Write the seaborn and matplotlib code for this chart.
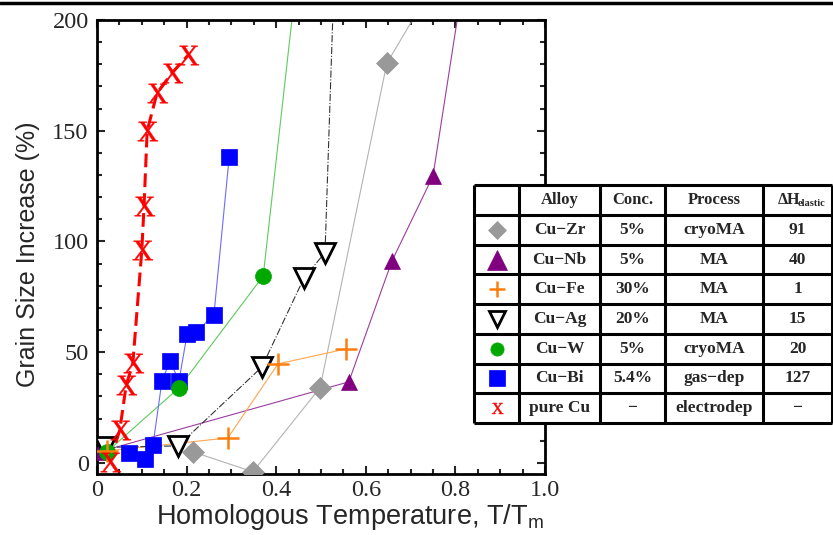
import matplotlib
matplotlib.use("Agg")
import matplotlib.pyplot as plt
import seaborn as sns
import numpy as np
from matplotlib.lines import Line2D
from matplotlib.textpath import TextPath
from matplotlib.font_manager import FontProperties
from matplotlib.path import Path
from matplotlib.ticker import MultipleLocator

# data (T/Tm, grain size increase %)
zr_x = [0.214, 0.348, 0.498, 0.647, 0.760]
zr_y = [5.0, -4.0, 34.0, 180.5, 219.0]
nb_x = [0.005, 0.562, 0.658, 0.750, 0.830]
nb_y = [5.0, 36.6, 91.0, 129.6, 234.0]
fe_x = [0.022, 0.292, 0.404, 0.556]
fe_y = [5.4, 11.3, 44.7, 51.5]
ag_x = [0.018, 0.181, 0.368, 0.462, 0.509, 0.531]
ag_y = [7.0, 7.7, 43.3, 83.5, 95.0, 230.0]
w_x = [0.022, 0.183, 0.371, 0.450]
w_y = [5.0, 33.9, 84.4, 227.0]
bi_x = [0.071, 0.107, 0.125, 0.145, 0.163, 0.183, 0.201, 0.221, 0.261, 0.295]
bi_y = [4.5, 1.8, 8.1, 37.0, 46.0, 37.0, 58.0, 59.0, 67.0, 138.0]
cu_x = [0.029, 0.051, 0.065, 0.080, 0.100, 0.105, 0.112, 0.134, 0.167, 0.203]
cu_y = [0.5, 15.0, 35.0, 45.0, 96.0, 116.0, 150.0, 167.0, 176.0, 184.0]

alloys = ["Cu\u2212Zr", "Cu\u2212Nb", "Cu\u2212Fe", "Cu\u2212Ag", "Cu\u2212W", "Cu\u2212Bi", "pure Cu"]
concs = ["5%", "5%", "30%", "20%", "5%", "5.4%", "\u2212"]
processes = ["cryoMA", "MA", "MA", "MA", "cryoMA", "gas\u2212dep", "electrodep"]
dh_elastic = ["91", "40", "1", "15", "20", "127", "\u2212"]

sns.set_style("ticks")
plt.rcParams["font.family"] = ["Liberation Serif", "DejaVu Serif"]

# serif "X" marker for pure Cu
tp = TextPath((0, 0), "X", prop=FontProperties(family="Liberation Serif"), size=1)
v = tp.vertices
ctr = (v.min(axis=0) + v.max(axis=0)) / 2
x_marker = Path(v - ctr, tp.codes)

# table order; "tms" is the marker size used in the table, "z" the drawing order
series = [
    dict(x=zr_x, y=zr_y, color="#b3b3b3", ls="-", lw=0.8, marker="D", ms=11, tms=9.5,
         mfc="#999999", mec="#999999", mew=0.5, z=3.2),
    dict(x=nb_x, y=nb_y, color="#9b3da0", ls="-", lw=0.8, marker="^", ms=12, tms=14,
         mfc="#800080", mec="#800080", mew=0.5, z=3.0),
    dict(x=fe_x, y=fe_y, color="#ffa64d", ls="-", lw=0.8, marker="+", ms=16, tms=12,
         mfc="#ff7f0e", mec="#ff7f0e", mew=1.8, z=3.5),
    dict(x=ag_x, y=ag_y, color="#333333", ls="-.", lw=0.8, marker="v", ms=15, tms=11,
         mfc="white", mec="black", mew=2.0, z=3.1),
    dict(x=w_x, y=w_y, color="#5ccc5c", ls="-", lw=0.8, marker="o", ms=11.5, tms=9.5,
         mfc="#00a800", mec="#00a800", mew=0.5, z=3.4),
    dict(x=bi_x, y=bi_y, color="#6b6bff", ls="-", lw=0.8, marker="s", ms=11, tms=11.5,
         mfc="#0000ff", mec="#0000ff", mew=0.5, z=3.3),
    dict(x=cu_x, y=cu_y, color="#ff0000", ls="--", lw=2.2, marker=x_marker, ms=15, tms=8.5,
         mfc="#ff0000", mec="#ff0000", mew=0.3, z=3.6),
]

fig = plt.figure(figsize=(8.33, 5.35), dpi=100)
ax = fig.add_axes([97 / 833, 61 / 535, 448 / 833, 454 / 535])

for s in series:
    sns.lineplot(x=s["x"], y=s["y"], ax=ax, sort=False, estimator=None,
                 color=s["color"], linestyle=s["ls"], linewidth=s["lw"], zorder=2)
    ax.plot(s["x"], s["y"], linestyle="none", marker=s["marker"], markersize=s["ms"],
            markerfacecolor=s["mfc"], markeredgecolor=s["mec"], markeredgewidth=s["mew"],
            zorder=s["z"])
for ln in ax.get_lines():
    if ln.get_linestyle() == "--":
        ln.set_dashes([4.5, 2])

ax.set_xlim(0, 1.0)
ax.set_ylim(-5, 200)
ax.xaxis.set_minor_locator(MultipleLocator(0.05))
ax.yaxis.set_major_locator(MultipleLocator(50))
ax.yaxis.set_minor_locator(MultipleLocator(10))
ax.set_xticks([0, 0.2, 0.4, 0.6, 0.8, 1.0], ["0", "0.2", "0.4", "0.6", "0.8", "1.0"])
ax.tick_params(which="both", direction="in", top=True, right=True, width=1.5,
               labelsize=17.5, pad=4)
ax.tick_params(axis="y", pad=6)
ax.tick_params(which="major", length=6)
ax.tick_params(which="minor", length=3.5)
for sp in ax.spines.values():
    sp.set_linewidth(2)
    sp.set_color("black")

ax.set_xlabel("Homologous Temperature, T/T$_\\mathregular{m}$", family="Liberation Sans",
              fontsize=19.5)
ax.xaxis.set_label_coords(0.565, -0.061)
ax.set_ylabel("Grain Size Increase (%)", family="Liberation Sans", fontsize=18)
ax.yaxis.set_label_coords(-0.127, 0.485)

# table on the right, white background hides the axes frame behind it
tax = fig.add_axes([474 / 833, 112 / 535, 358 / 833, 238 / 535])
tax.set_xlim(0, 358)
tax.set_ylim(238, 0)
tax.set_facecolor("white")
tax.set_xticks([])
tax.set_yticks([])
for sp in tax.spines.values():
    sp.set_visible(False)
col_edges = [0, 45, 126, 191, 289, 358]
row_edges = [0] + [30 + 208 / 7 * i for i in range(8)]
for xe in col_edges:
    tax.vlines(xe, 0, 238, color="black", lw=2.2, clip_on=False)
for ye in row_edges:
    tax.hlines(ye, 0, 358, color="black", lw=2.2, clip_on=False)

col_mid = [(col_edges[i] + col_edges[i + 1]) / 2 for i in range(5)]
bold = dict(family="Liberation Serif", weight="bold", ha="center", va="center")
hy = 15
tax.text(col_mid[1], hy, "Alloy", fontsize=12, **bold)
tax.text(col_mid[2], hy, "Conc.", fontsize=12, **bold)
tax.text(col_mid[3], hy, "Process", fontsize=12, **bold)
tax.text(col_mid[4] - 9, hy, "\u0394H", fontsize=11.5, **bold)
tax.text(col_mid[4] + 14, hy + 4, "elastic", fontsize=7.5, **bold)

for i in range(7):
    yc = (row_edges[i + 1] + row_edges[i + 2]) / 2
    s = series[i]
    tax.plot([col_mid[0]], [yc], linestyle="none", marker=s["marker"],
             markersize=s["tms"], markerfacecolor=s["mfc"],
             markeredgecolor=s["mec"], markeredgewidth=s["mew"], clip_on=False)
    tax.text(col_mid[1], yc, alloys[i], fontsize=12.5, **bold)
    tax.text(col_mid[2], yc, concs[i], fontsize=12.5, **bold)
    tax.text(col_mid[3], yc, processes[i], fontsize=12.5, **bold)
    tax.text(col_mid[4], yc, dh_elastic[i], fontsize=12.5, **bold)

fig.add_artist(Line2D([0, 1], [0.995, 0.995], transform=fig.transFigure,
                      color="black", lw=2.5))

fig.savefig("out.png", dpi=100)
